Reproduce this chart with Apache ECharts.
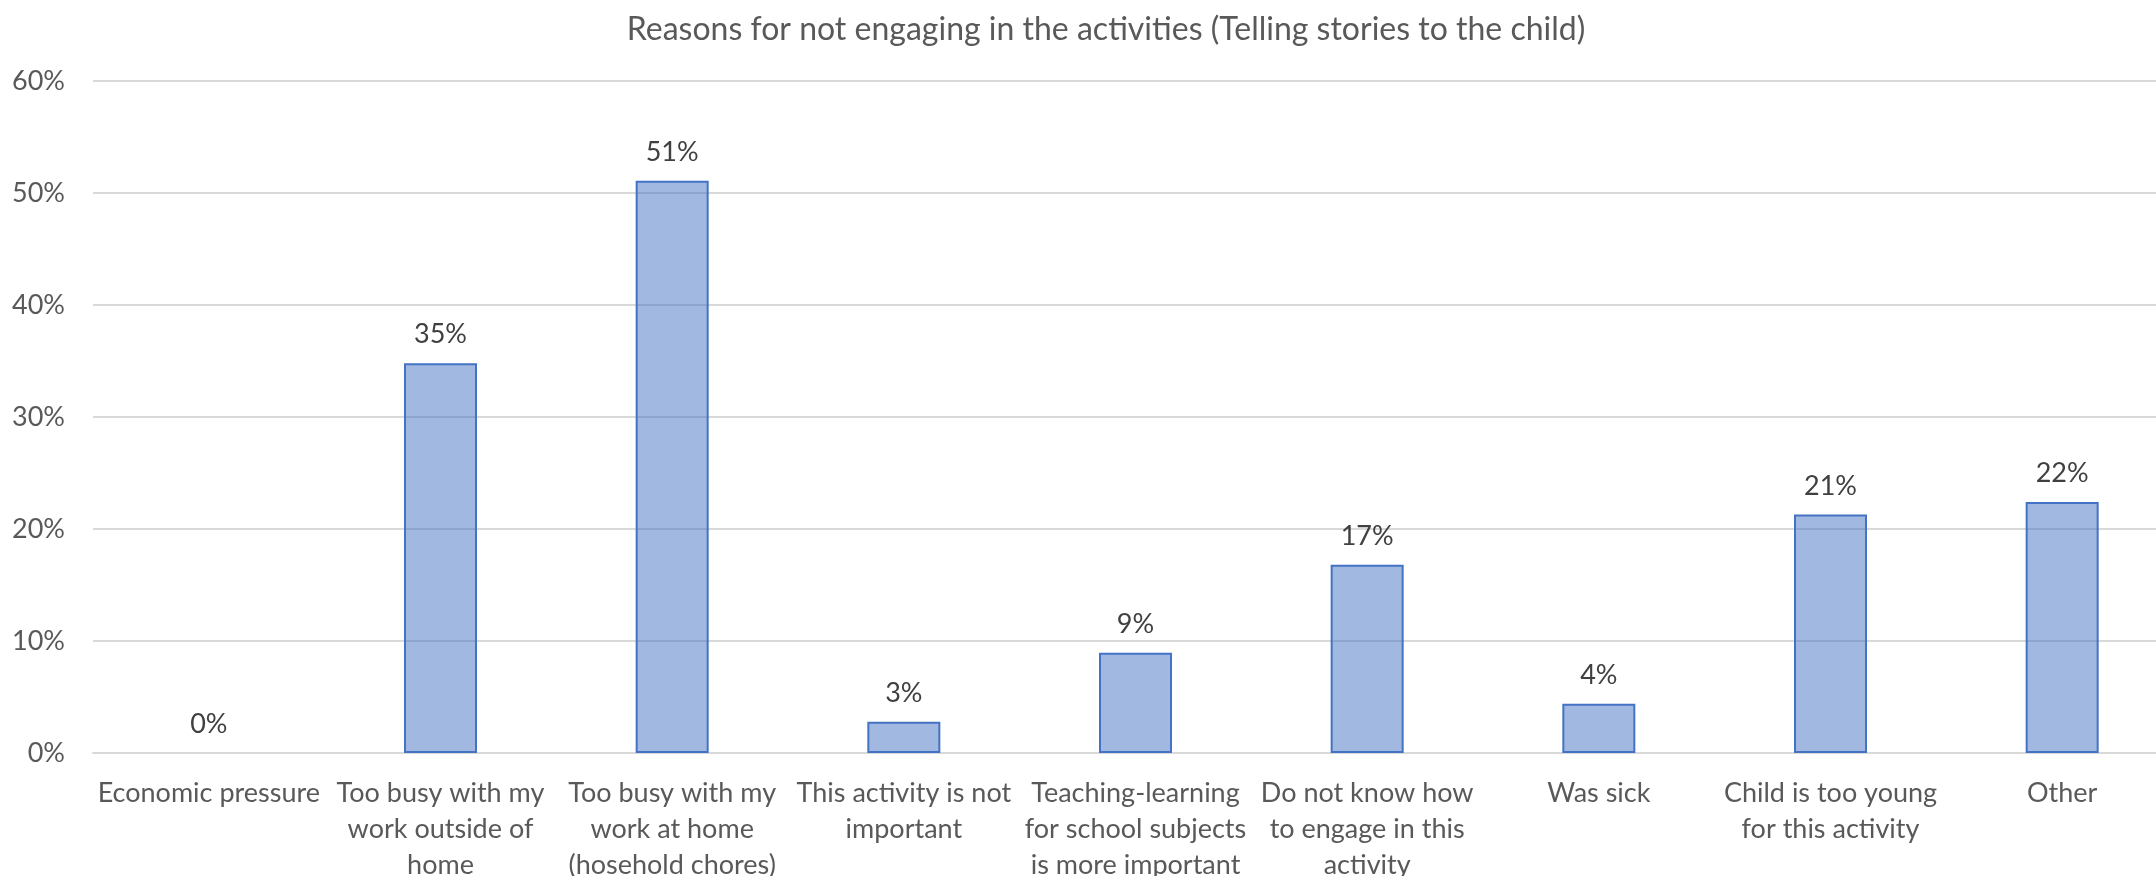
<!DOCTYPE html>
<html>
<head>
<meta charset="utf-8">
<title>Reasons for not engaging in the activities</title>
<script src="https://cdn.jsdelivr.net/npm/echarts@6/dist/echarts.min.js"></script>
<style>
  html, body { margin: 0; padding: 0; background: #ffffff; }
  #chart { width: 2156px; height: 876px; }
</style>
</head>
<body>
<div id="chart"></div>
<script>
// Reasons given (category labels, wrapped onto lines)
const categories = [
  'Economic pressure',
  'Too busy with my\nwork outside of\nhome',
  'Too busy with my\nwork at home\n(hosehold chores)',
  'This activity is not\nimportant',
  'Teaching-learning\nfor school subjects\nis more important',
  'Do not know how\nto engage in this\nactivity',
  'Was sick',
  'Child is too young\nfor this activity',
  'Other'
];

// Share of respondents giving each reason
const shares = [0.0, 0.348, 0.511, 0.028, 0.0896, 0.168, 0.044, 0.213, 0.224];

// Value axis ticks
const yTicks = [0, 0.1, 0.2, 0.3, 0.4, 0.5, 0.6];

const FONT = 'Lato';
const pct = v => Math.round(v * 100) + '%';

// A zero-height bar gets no outline so it stays invisible
const barData = shares.map(v => v === 0
  ? { value: v, itemStyle: { borderWidth: 0 } }
  : v);

const chart = echarts.init(document.getElementById('chart'), null, { renderer: 'canvas' });

chart.setOption({
  backgroundColor: '#ffffff',
  animation: false,
  title: {
    text: 'Reasons for not engaging in the activities (Telling stories to the child)',
    left: 1101,
    top: 9,
    textAlign: 'center',
    textStyle: { fontFamily: FONT, fontSize: 32, fontWeight: 'normal', color: '#595959' }
  },
  grid: { left: 93, right: -22, top: 81, bottom: 123, outerBoundsMode: 'none', containLabel: false },
  xAxis: {
    type: 'category',
    data: categories,
    axisTick: { show: false },
    axisLine: { show: true, lineStyle: { color: '#d9d9d9', width: 2 } },
    axisLabel: {
      interval: 0,
      margin: 22,
      fontFamily: FONT,
      fontSize: 27,
      lineHeight: 36,
      color: '#595959'
    }
  },
  yAxis: {
    type: 'value',
    min: yTicks[0],
    max: yTicks[yTicks.length - 1],
    interval: 0.1,
    axisLine: { show: false },
    axisTick: { show: false },
    splitLine: { lineStyle: { color: '#d9d9d9', width: 2 } },
    axisLabel: {
      margin: 28,
      fontFamily: FONT,
      fontSize: 27,
      color: '#595959',
      formatter: v => pct(v)
    }
  },
  series: [{
    type: 'bar',
    data: barData,
    barWidth: 73,
    itemStyle: {
      color: 'rgba(68,114,196,0.5)',
      borderColor: '#4472C4',
      borderWidth: 2
    },
    label: {
      show: true,
      position: 'top',
      distance: 15,
      fontFamily: FONT,
      fontSize: 27,
      color: '#404040',
      formatter: p => pct(p.value)
    }
  }]
});
</script>
</body>
</html>
